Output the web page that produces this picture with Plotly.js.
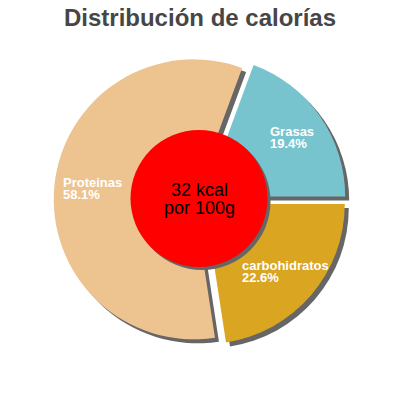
<!DOCTYPE html>
<html>
<head>
<meta charset="utf-8">
<script src="https://cdn.plot.ly/plotly-3.0.1.min.js"></script>
<style>body{margin:0;background:#fff}#chart{width:400px;height:400px}</style>
</head>
<body>
<div id="chart"></div>
<script>
// calorie split
var labels = ["Grasas", "carbohidratos", "Proteinas"];
var values = [19.4, 22.6, 58.1];
var colors = ["#77c4ce", "#daa520", "#edc48f"];
var pulls = [0.045, 0.045, 0.045];
var centerLines = ["32 kcal", "por 100g"];

var total = values.reduce(function (a, b) { return a + b; }, 0);
// first slice ends at 3 o'clock
var rotation = 90 - 360 * values[0] / total;

var W = 400, H = 400;
var R = 140; // wanted pie radius in px
var half = R * (1 + Math.max.apply(null, pulls)) / W;
var dom = [0.5 - half, 0.5 + half];
var shadowPx = 4;
var labelFont = "Liberation Sans, Arial, sans-serif";

var shadow = {
  type: "pie",
  values: values,
  sort: false,
  direction: "clockwise",
  rotation: rotation,
  pull: pulls,
  textinfo: "none",
  hoverinfo: "skip",
  marker: {colors: values.map(function () { return "#666666"; }), line: {width: 0}},
  domain: {x: [dom[0] + shadowPx / W, dom[1] + shadowPx / W], y: [dom[0] - shadowPx / H, dom[1] - shadowPx / H]},
  showlegend: false
};

var pie = {
  type: "pie",
  labels: labels,
  values: values,
  sort: false,
  direction: "clockwise",
  rotation: rotation,
  pull: pulls,
  textinfo: "none",
  marker: {colors: colors, line: {width: 0}},
  domain: {x: dom, y: dom},
  showlegend: false
};

// measure label widths so the two lines can be left aligned
var ctx = document.createElement("canvas").getContext("2d");
ctx.font = "bold 13px Liberation Sans";

// slice labels along each bisector
var annotations = [];
var acc = 0;
values.forEach(function (v, i) {
  var mid = (rotation + 360 * (acc + v / 2) / total) * Math.PI / 180;
  acc += v;
  var r = R * 0.786;
  var pct = v.toFixed(1) + "%";
  var w = Math.max(ctx.measureText(labels[i]).width, ctx.measureText(pct).width);
  var cx = 200 + r * Math.sin(mid), cy = 200 - r * Math.cos(mid);
  var base = {
    xref: "paper", yref: "paper",
    x: (cx - w / 2) / W, y: 1 - cy / H,
    xanchor: "left", yanchor: "middle",
    showarrow: false,
    font: {family: labelFont, size: 13, weight: "bold", color: "#ffffff"}
  };
  annotations.push(Object.assign({}, base, {text: labels[i], yshift: 6}));
  annotations.push(Object.assign({}, base, {text: pct, yshift: -6}));
});
centerLines.forEach(function (t, i) {
  annotations.push({
    xref: "paper", yref: "paper", x: 199 / W, y: 1 - 199 / H,
    yshift: 9 - 18 * i,
    text: t, showarrow: false,
    font: {family: labelFont, size: 18, color: "#000000"}
  });
});

var cr = 68.5, ccx = 199, ccy = 198.5;
var layout = {
  width: W, height: H,
  margin: {l: 0, r: 0, t: 0, b: 0},
  paper_bgcolor: "#ffffff",
  title: {
    text: "Distribución de calorías",
    x: 0.5, y: 0.955, yanchor: "middle",
    font: {family: labelFont, size: 24, weight: "bold", color: "#464646"}
  },
  shapes: [
    {type: "circle", xref: "paper", yref: "paper", layer: "above",
     x0: (ccx - cr + 3) / W, x1: (ccx + cr + 3) / W, y0: 1 - (ccy + cr + 3) / H, y1: 1 - (ccy - cr + 3) / H,
     fillcolor: "#666666", line: {width: 0}},
    {type: "circle", xref: "paper", yref: "paper", layer: "above",
     x0: (ccx - cr) / W, x1: (ccx + cr) / W, y0: 1 - (ccy + cr) / H, y1: 1 - (ccy - cr) / H,
     fillcolor: "#ff0000", line: {width: 0}}
  ],
  annotations: annotations
};

Plotly.newPlot("chart", [shadow, pie], layout, {displayModeBar: false, staticPlot: true});
</script>
</body>
</html>
